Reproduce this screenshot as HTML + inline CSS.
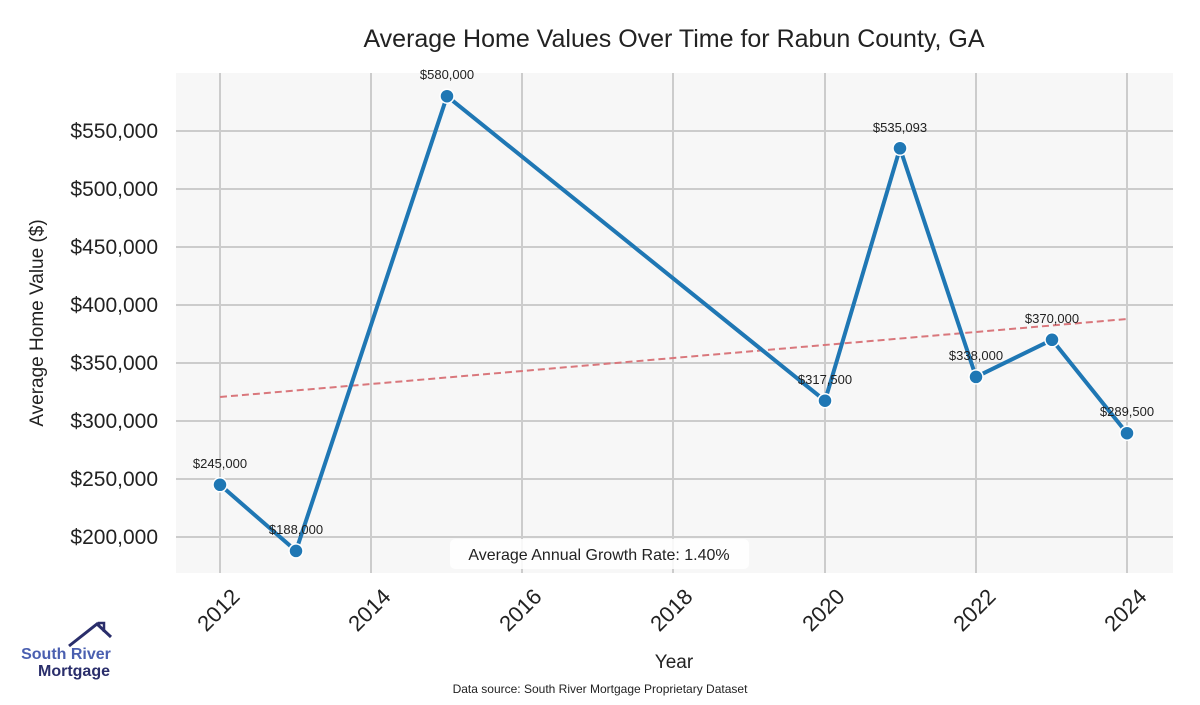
<!DOCTYPE html>
<html><head><meta charset="utf-8"><style>
body{margin:0;background:#fff;}
svg text{font-family:"Liberation Sans",sans-serif;}
</style></head><body>
<svg width="1200" height="700" viewBox="0 0 1200 700" xmlns="http://www.w3.org/2000/svg">
<rect x="176" y="73" width="997" height="500" fill="#f7f7f7"/>
<g stroke="#cccccc" stroke-width="2">
<line x1="220" y1="73" x2="220" y2="573"/><line x1="371" y1="73" x2="371" y2="573"/>
<line x1="522" y1="73" x2="522" y2="573"/><line x1="673" y1="73" x2="673" y2="573"/>
<line x1="825" y1="73" x2="825" y2="573"/><line x1="976" y1="73" x2="976" y2="573"/>
<line x1="1127" y1="73" x2="1127" y2="573"/>
<line x1="176" y1="537" x2="1173" y2="537"/><line x1="176" y1="479" x2="1173" y2="479"/>
<line x1="176" y1="421" x2="1173" y2="421"/><line x1="176" y1="363" x2="1173" y2="363"/>
<line x1="176" y1="305" x2="1173" y2="305"/><line x1="176" y1="247" x2="1173" y2="247"/>
<line x1="176" y1="189" x2="1173" y2="189"/><line x1="176" y1="131" x2="1173" y2="131"/>
</g>
<g font-size="21" fill="#222" text-anchor="end">
<text x="158" y="544">$200,000</text><text x="158" y="486">$250,000</text>
<text x="158" y="428">$300,000</text><text x="158" y="370">$350,000</text>
<text x="158" y="312">$400,000</text><text x="158" y="254">$450,000</text>
<text x="158" y="196">$500,000</text><text x="158" y="138">$550,000</text>
</g>
<g font-size="22" fill="#222" text-anchor="end">
<text transform="translate(241,598) rotate(-45)">2012</text>
<text transform="translate(392,598) rotate(-45)">2014</text>
<text transform="translate(543,598) rotate(-45)">2016</text>
<text transform="translate(694,598) rotate(-45)">2018</text>
<text transform="translate(846,598) rotate(-45)">2020</text>
<text transform="translate(997,598) rotate(-45)">2022</text>
<text transform="translate(1148,598) rotate(-45)">2024</text>
</g>
<line x1="220" y1="397" x2="1127" y2="319" stroke="#d9777c" stroke-width="2" stroke-dasharray="7,4"/>
<polyline fill="none" stroke="#1f77b4" stroke-width="4" stroke-linejoin="round" points="220,484.8 296,550.9 447,96.2 825,400.7 900,148.3 976,376.9 1052,339.8 1127,433.2"/>
<g fill="#1f77b4" stroke="#fff" stroke-width="1.5">
<circle cx="220" cy="484.8" r="7"/><circle cx="296" cy="550.9" r="7"/><circle cx="447" cy="96.2" r="7"/>
<circle cx="825" cy="400.7" r="7"/><circle cx="900" cy="148.3" r="7"/><circle cx="976" cy="376.9" r="7"/>
<circle cx="1052" cy="339.8" r="7"/><circle cx="1127" cy="433.2" r="7"/>
</g>
<g font-size="13" fill="#222" text-anchor="middle">
<text x="220" y="468">$245,000</text><text x="296" y="534">$188,000</text>
<text x="447" y="79">$580,000</text><text x="825" y="384">$317,500</text>
<text x="900" y="132">$535,093</text><text x="976" y="360">$338,000</text>
<text x="1052" y="323">$370,000</text><text x="1127" y="416">$289,500</text>
</g>
<rect x="450" y="539" width="299" height="30" rx="5" fill="#fff" opacity="0.85"/>
<text x="599" y="560" font-size="16" fill="#222" text-anchor="middle">Average Annual Growth Rate: 1.40%</text>
<text x="674" y="47" font-size="25" fill="#222" text-anchor="middle">Average Home Values Over Time for Rabun County, GA</text>
<text x="674" y="668" font-size="19" fill="#222" text-anchor="middle">Year</text>
<text transform="translate(43,323) rotate(-90)" font-size="19" fill="#222" text-anchor="middle">Average Home Value ($)</text>
<text x="600" y="693" font-size="12" fill="#222" text-anchor="middle">Data source: South River Mortgage Proprietary Dataset</text>
<polyline points="69,646 97,624 111,637" fill="none" stroke="#2a2e6b" stroke-width="3"/>
<polyline points="99,626 99,623 104,623 104,632" fill="none" stroke="#2a2e6b" stroke-width="2.5"/>
<text x="66" y="659" font-size="16" font-weight="bold" fill="#4a5fb0" text-anchor="middle">South River</text>
<text x="74" y="676" font-size="16" font-weight="bold" fill="#2a2e6b" text-anchor="middle">Mortgage</text>
</svg>
</body></html>
